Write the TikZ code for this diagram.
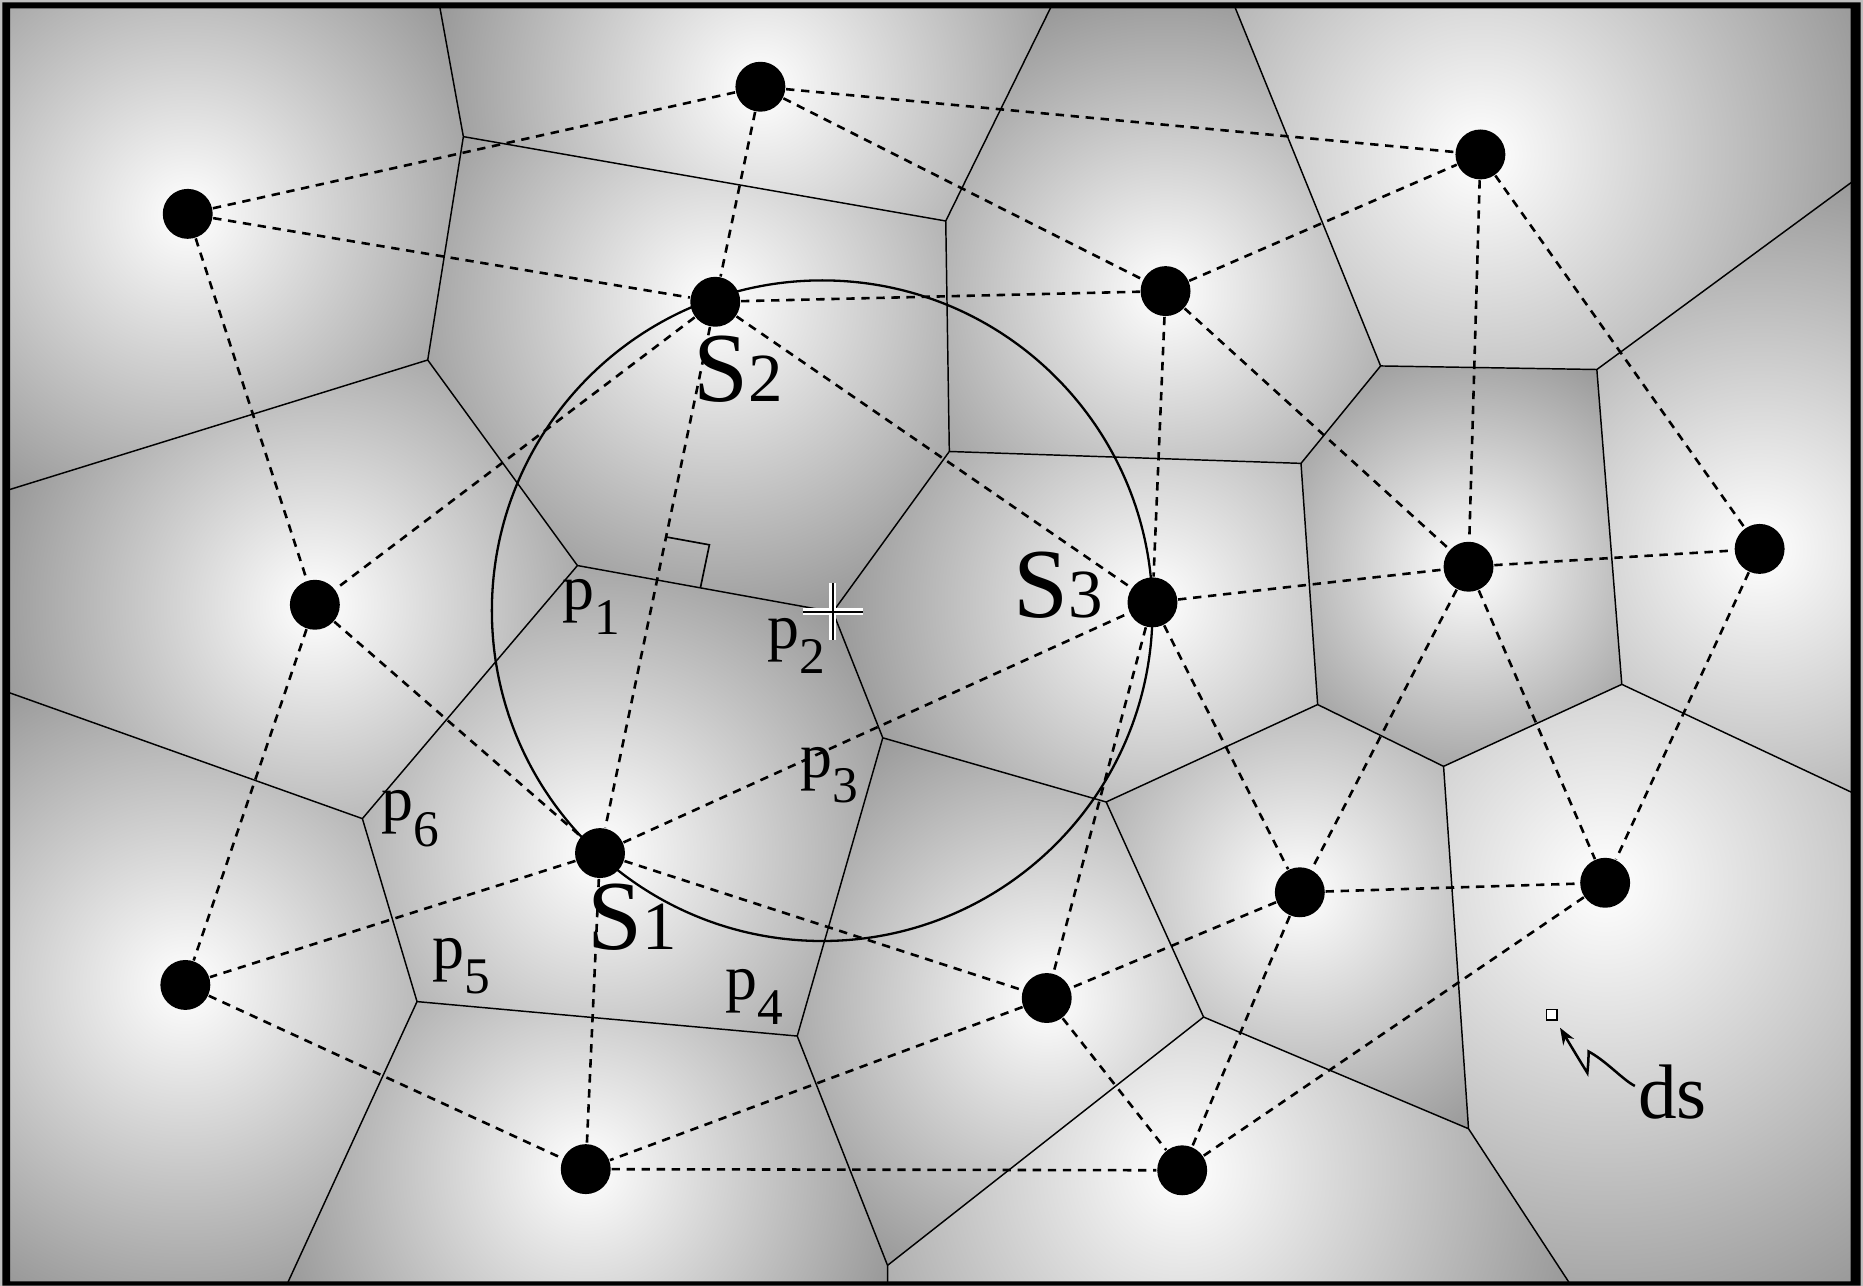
\documentclass[tikz,border=0pt]{standalone}
\usepackage{fontspec}
\setmainfont{Liberation Serif}
\newfontfamily\labfont{Liberation Serif}
\usetikzlibrary{calc,arrows.meta}
\definecolor{cellout}{gray}{0.6}
\definecolor{margin}{gray}{0.75}
\newcommand{\vcell}[3]{%
  \begin{scope}
    \clip #3 -- cycle;
    \fill[cellout] (0,0) rectangle (1568,1082);
    \shade[inner color=white,outer color=cellout] (#1) circle (#2);
  \end{scope}}
\newcommand{\Slab}[1]{{\labfont\fontsize{23.7}{26}\selectfont S}{\labfont\fontsize{16.5}{18}\selectfont #1}}
\newcommand{\plab}[1]{{\labfont\fontsize{15.3}{17}\selectfont p}\raisebox{-6pt}{\labfont\fontsize{12.3}{14}\selectfont #1}}
\begin{document}
\begin{tikzpicture}[x=0.01cm,y=-0.01cm,
  site/.style={circle,fill=black,inner sep=0pt,minimum size=0.42cm},
  del/.style={line width=0.62pt,dash pattern=on 2pt off 1.6pt},
  vor/.style={line width=0.35pt},
  lab/.style={anchor=base west,inner sep=0pt}]
\useasboundingbox (0,0) rectangle (1568,1082);
\fill[margin] (0,0) rectangle (1568,1082);
% Voronoi vertices
\coordinate (TL) at (5,5);    \coordinate (TR) at (1563,5);
\coordinate (BR) at (1563,1080); \coordinate (BL) at (5,1080);
\coordinate (T1) at (370,5);  \coordinate (A) at (390,115);
\coordinate (B) at (360,303); \coordinate (L1) at (5,413);
\coordinate (p1) at (486,476); \coordinate (p2) at (701,515);
\coordinate (C) at (796,186); \coordinate (T2) at (885,5);
\coordinate (D) at (799,380); \coordinate (E) at (1095,390);
\coordinate (F) at (1162,308); \coordinate (T3) at (1039,5);
\coordinate (G) at (1344,311); \coordinate (R1) at (1563,150);
\coordinate (H) at (1365,576); \coordinate (R2) at (1563,669);
\coordinate (I) at (1215,645); \coordinate (J) at (1109,593);
\coordinate (K) at (931,675); \coordinate (p3) at (743,621);
\coordinate (p4) at (671,872); \coordinate (p5) at (351,843);
\coordinate (p6) at (305,689); \coordinate (L2) at (5,582);
\coordinate (B1) at (242,1080); \coordinate (M) at (747,1065);
\coordinate (B2) at (747,1080); \coordinate (N) at (1013,856);
\coordinate (O) at (1236,950); \coordinate (B3) at (1321,1080);
% sites
\coordinate (c1) at (640,73);   \coordinate (c2) at (1246,130);
\coordinate (c3) at (158,180);  \coordinate (c4) at (602,254);
\coordinate (c5) at (981,245);  \coordinate (c6) at (265,509);
\coordinate (c7) at (970,507);  \coordinate (c8) at (1236,477);
\coordinate (c9) at (1481,462); \coordinate (c10) at (505,718);
\coordinate (c11) at (1094,751); \coordinate (c12) at (1351,743);
\coordinate (c13) at (156,829); \coordinate (c14) at (881,840);
\coordinate (c15) at (493,984); \coordinate (c16) at (995,985);
\coordinate (cc) at (692,514);
% shaded cells
\vcell{c3}{277}{(TL)--(T1)--(A)--(B)--(L1)}
\vcell{c1}{278}{(T1)--(T2)--(C)--(A)}
\vcell{c4}{279}{(A)--(C)--(D)--(p2)--(p1)--(B)}
\vcell{c5}{257}{(T2)--(T3)--(F)--(E)--(D)--(C)}
\vcell{c2}{341}{(T3)--(TR)--(R1)--(G)--(F)}
\vcell{c6}{274}{(L1)--(B)--(p1)--(p6)--(L2)}
\vcell{c7}{269}{(D)--(E)--(J)--(K)--(p3)--(p2)}
\vcell{c8}{199}{(E)--(F)--(G)--(H)--(I)--(J)}
\vcell{c9}{323}{(R1)--(R2)--(H)--(G)}
\vcell{c10}{281}{(p1)--(p2)--(p3)--(p4)--(p5)--(p6)}
\vcell{c13}{290}{(L2)--(p6)--(p5)--(B1)--(BL)}
\vcell{c15}{270}{(p5)--(p4)--(M)--(B2)--(B1)}
\vcell{c14}{262}{(p3)--(K)--(N)--(M)--(p4)}
\vcell{c11}{244}{(J)--(I)--(O)--(N)--(K)}
\vcell{c12}{397}{(H)--(R2)--(BR)--(B3)--(O)--(I)}
\vcell{c16}{339}{(N)--(O)--(B3)--(B2)--(M)}
% Voronoi edges
\draw[vor] (T1)--(A) (A)--(B) (A)--(C) (C)--(T2) (C)--(D) (B)--(L1)
  (B)--(p1) (p1)--(p2) (p1)--(p6) (p2)--(D) (p2)--(p3) (D)--(E)
  (E)--(F) (F)--(T3) (F)--(G) (G)--(R1) (G)--(H) (H)--(R2) (H)--(I)
  (I)--(J) (J)--(E) (J)--(K) (K)--(p3) (K)--(N) (p3)--(p4) (p4)--(p5)
  (p4)--(M) (M)--(B2) (M)--(N) (N)--(O) (O)--(I) (O)--(B3) (p5)--(p6)
  (p5)--(B1) (p6)--(L2);
% circumcircle
\draw[line width=0.55pt] (cc) circle (278);
% sites
\foreach \i in {1,...,16} {\node[site] (s\i) at (c\i) {};}
% Delaunay edges
\draw[del] (s3)--(s1) (s3)--(s4) (s3)--(s6) (s1)--(s4) (s1)--(s2) (s1)--(s5)
  (s4)--(s5) (s5)--(s2) (s4)--(s7) (s4)--(s6) (s4)--(s10) (s5)--(s7)
  (s5)--(s8) (s2)--(s8) (s2)--(s9) (s7)--(s8) (s8)--(s9) (s6)--(s10)
  (s6)--(s13) (s10)--(s7) (s10)--(s13) (s10)--(s14) (s10)--(s15)
  (s13)--(s15) (s7)--(s14) (s7)--(s11) (s8)--(s11) (s8)--(s12)
  (s9)--(s12) (s11)--(s12) (s11)--(s14) (s14)--(s15) (s15)--(s16)
  (s14)--(s16) (s11)--(s16) (s12)--(s16);
% right angle mark
\coordinate (X) at (intersection of p1--p2 and c10--c4);
\coordinate (Xa) at ($(X)!0.37cm!(p2)$);
\coordinate (Xb) at ($(X)!0.37cm!(c4)$);
\draw[line width=0.4pt] (Xa) -- ($(Xa)+(Xb)-(X)$) -- (Xb);
% cross at p2
\draw[white,line width=1.7pt] ($(p2)+(-25,0)$)--($(p2)+(25,0)$) ($(p2)+(0,-24)$)--($(p2)+(0,24)$);
\draw[black,line width=0.6pt] ($(p2)+(-25,0)$)--($(p2)+(25,0)$) ($(p2)+(0,-24)$)--($(p2)+(0,24)$);
% labels
\node[lab] (lS2) at (583,338) {\Slab{2}};
\node[lab] (lS3) at (852,520) {\Slab{3}};
\node[lab] (lS1) at (494,799) {\Slab{1}};
\node[lab] (lp1) at (473,513) {\plab{1}};
\node[lab] (lp2) at (645,546) {\plab{2}};
\node[lab] (lp3) at (673,654) {\plab{3}};
\node[lab] (lp4) at (610,841) {\plab{4}};
\node[lab] (lp5) at (363,815) {\plab{5}};
\node[lab] (lp6) at (320,691) {\plab{6}};
% ds
\node[draw,line width=0.35pt,fill=white,inner sep=0pt,minimum size=0.09cm] (dsq) at (1306,854) {};
\node[lab] (lds) at (1378,941) {\labfont\fontsize{18.5}{20}\selectfont ds};
\coordinate (dsa) at (1376,914);
\coordinate (dsb) at (1337,885);
\coordinate (dsc) at (1336,903);
\coordinate (dst) at (1313,865);
\draw[line width=0.6pt,-{Stealth[length=4pt,width=3pt]}] (dsa) .. controls (1366,909) and (1352,893) .. (dsb) .. controls (1337,892) .. (dsc) .. controls (1328,890) .. (dst);
% frame
\fill[black,even odd rule] (2,2) rectangle (1566,1082) (8.5,7) rectangle (1557.5,1078.5);
\end{tikzpicture}
\end{document}
